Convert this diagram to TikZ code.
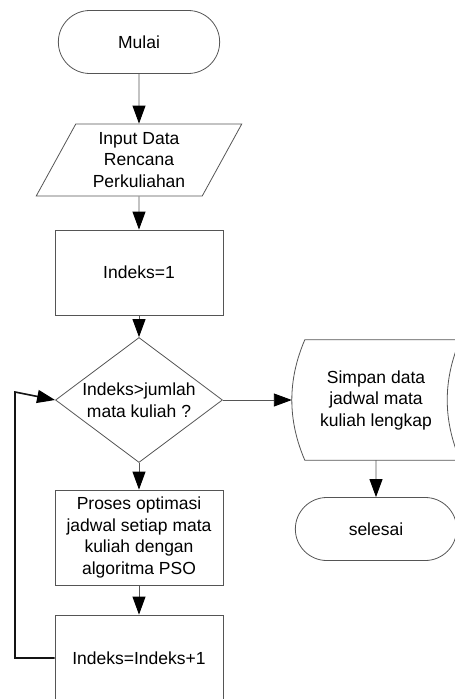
\documentclass[tikz,border=0pt]{standalone}
\usepackage{fontspec}
\setmainfont{Liberation Sans}
\usepackage{tikz}
\usetikzlibrary{arrows.meta,shapes,positioning,calc}
\usepackage{xcolor}
\definecolor{fcline}{RGB}{85,85,85}
\definecolor{fcloop}{RGB}{20,20,20}
\newcommand{\fcfont}{\fontsize{17.5}{21.5}\selectfont}
\tikzstyle{arrow} = [draw=fcline, line width=0.9pt, -{Triangle[length=18pt,width=13pt,color=black]}]
\tikzstyle{terminal} = [rounded rectangle, draw=fcline, line width=0.8pt, minimum width=168pt, minimum height=63pt, font=\fcfont]
\tikzstyle{iobox} = [trapezium, trapezium left angle=63.4, trapezium right angle=116.6, trapezium stretches=true, draw=fcline, line width=0.8pt, minimum width=206pt, minimum height=72pt, align=center, font=\fcfont]
\tikzstyle{procbox} = [rectangle, draw=fcline, line width=0.8pt, minimum width=168pt, align=center, font=\fcfont]
\tikzstyle{decbox} = [diamond, draw=fcline, line width=0.8pt, minimum width=167pt, minimum height=125pt, aspect=1.34, inner sep=0pt, align=center, font=\fcfont]

\begin{document}
\begin{tikzpicture}[x=1pt, y=-1pt]
\useasboundingbox (0,0) rectangle (455,699);
% Start
\node[terminal] (start) at (139,42) {Mulai};

% Input
\node[iobox] (input) at (139,160) {Input Data\\Rencana\\Perkuliahan};

% Init and test
\node[procbox, minimum height=85pt] (init) at (139,272.5) {Indeks=1};
\node[decbox] (dec) at (139,400) {Indeks>jumlah\\mata kuliah ?};

% Loop body
\node[procbox, minimum height=95pt] (proc) at (139,537.5) {Proses optimasi\\jadwal setiap mata\\kuliah dengan\\algoritma PSO};
\node[procbox, minimum height=86pt] (inc) at (139,658) {Indeks=Indeks+1};
\coordinate (lp) at (15,392);

% Save and end
\node[minimum width=168pt, minimum height=120pt, align=center, font=\fcfont] (save) at (376,400) {Simpan data\\jadwal mata\\kuliah lengkap};
\draw[draw=fcline, line width=0.8pt] ($(save.north west)+(13,0)$) -- (save.north east)
  .. controls ($(save.east)+(-17.3,-20)$) and ($(save.east)+(-17.3,20)$) .. (save.south east)
  -- ($(save.south west)+(13,0)$)
  .. controls ($(save.west)+(-4.3,20)$) and ($(save.west)+(-4.3,-20)$) .. cycle;
\node[terminal] (stop) at (376,529) {selesai};

% Arrows
\draw[arrow] (start) -- (input);
\draw[arrow] (input) -- (init);
\draw[arrow] (init) -- (dec);
\draw[arrow] (dec) -- (proc);
\draw[arrow] (proc) -- (inc);
\draw[arrow] (dec.east) -- (save.west);
\draw[arrow] (save) -- (stop);
\draw[arrow, draw=fcloop, line width=1.6pt] (inc.west) -| (lp) -- (dec.west);
\end{tikzpicture}
\end{document}
